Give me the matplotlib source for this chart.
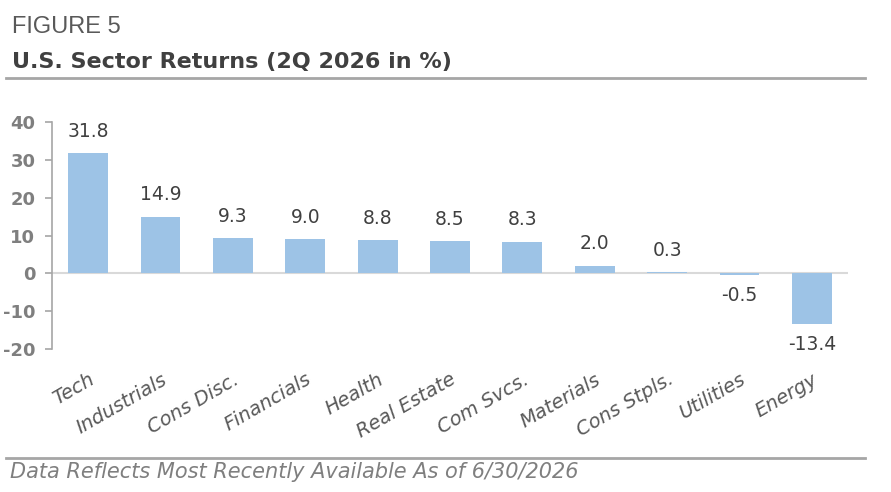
import matplotlib
matplotlib.use('Agg')
import matplotlib.pyplot as plt
from matplotlib.lines import Line2D
import numpy as np

# Chart data
sectors = ['Tech', 'Industrials', 'Cons Disc.', 'Financials', 'Health', 'Real Estate',
           'Com Svcs.', 'Materials', 'Cons Stpls.', 'Utilities', 'Energy']
returns = [31.8, 14.9, 9.3, 9.0, 8.8, 8.5, 8.3, 2.0, 0.3, -0.5, -13.4]
y_ticks = [-20, -10, 0, 10, 20, 30, 40]

W, H = 891, 492
fig = plt.figure(figsize=(W / 100, H / 100), dpi=100)

# Axes placed in pixel terms
left, right, top, bottom = 52, 848, 122, 349
ax = fig.add_axes([left / W, 1 - bottom / H, (right - left) / W, (bottom - top) / H])

x = np.arange(len(sectors))
ax.bar(x, returns, width=0.55, color='#9dc3e6', zorder=2)
ax.axhline(0, color='#d9d9d9', lw=1.5, zorder=1)

ax.set_xlim(-0.5, len(sectors) - 0.5)
ax.set_ylim(-20, 40)
ax.set_yticks(y_ticks)
ax.set_yticklabels([str(t) for t in y_ticks], fontsize=13, fontweight='bold',
                   color='#7f7f7f', family='DejaVu Sans')
ax.tick_params(axis='y', length=5, width=1.2, color='#a6a6a6', pad=7)

ax.set_xticks(x)
ax.set_xticklabels(sectors, rotation=30, ha='right', rotation_mode='anchor',
                   fontsize=14, style='italic', color='#595959', family='DejaVu Sans')
ax.tick_params(axis='x', length=0, pad=15)

for s in ['top', 'right', 'bottom']:
    ax.spines[s].set_visible(False)
ax.spines['left'].set_color('#a6a6a6')
ax.spines['left'].set_linewidth(1.2)

# Value labels
for i, v in enumerate(returns):
    if v >= 0:
        ax.annotate(f'{v:.1f}', (i, v), xytext=(0, 9), textcoords='offset points',
                    ha='center', va='bottom', fontsize=13.5, color='#404040',
                    family='DejaVu Sans')
    else:
        ax.annotate(f'{v:.1f}', (i, v), xytext=(0, -8), textcoords='offset points',
                    ha='center', va='top', fontsize=13.5, color='#404040',
                    family='DejaVu Sans')

# Header
fig.text(12 / W, 1 - 33 / H, 'FIGURE 5', fontsize=17, color='#595959',
         family='Liberation Sans', va='baseline')
fig.text(12 / W, 1 - 68 / H, 'U.S. Sector Returns (2Q 2026 in %)', fontsize=16,
         fontweight='bold', color='#404040', family='DejaVu Sans', va='baseline')
fig.add_artist(Line2D([6 / W, 865 / W], [1 - 78 / H, 1 - 78 / H], color='#a6a6a6', lw=2))

# Footer
fig.add_artist(Line2D([6 / W, 865 / W], [1 - 458 / H, 1 - 458 / H], color='#a6a6a6', lw=2))
fig.text(10 / W, 1 - 478 / H, 'Data Reflects Most Recently Available As of 6/30/2026',
         fontsize=15, style='italic', color='#7f7f7f', family='DejaVu Sans', va='baseline')

fig.savefig('out.png', dpi=100)
